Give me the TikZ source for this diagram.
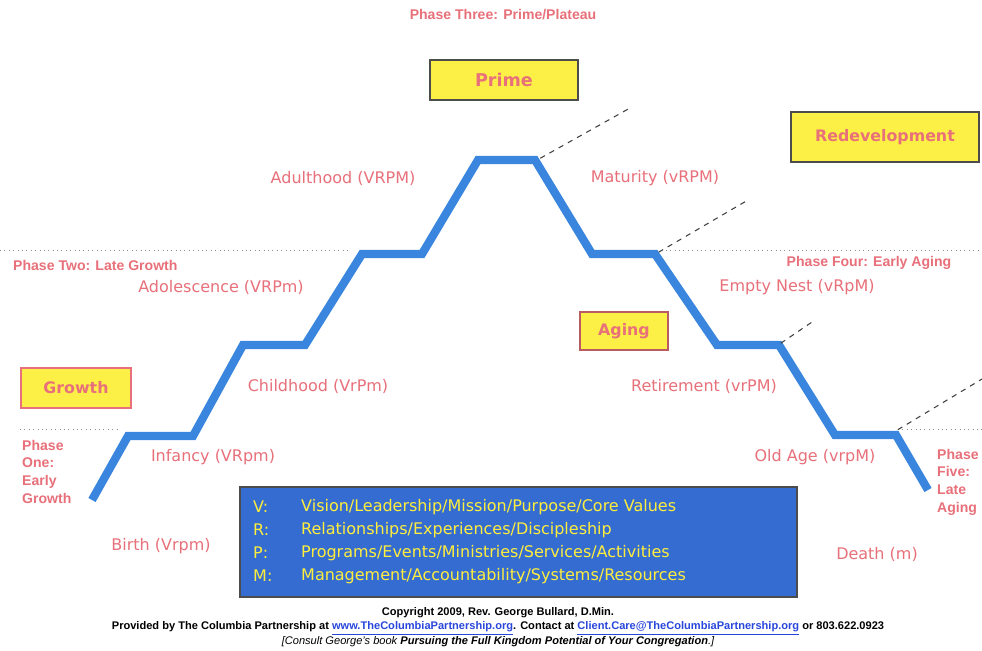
\documentclass[tikz,border=0pt]{standalone}
\usepackage{fontspec}
\setmainfont{Liberation Sans}
\newfontfamily\comicfont{DejaVu Sans}
\definecolor{stagepink}{RGB}{232,112,122}
\definecolor{stairblue}{RGB}{58,134,222}
\definecolor{keyblue}{RGB}{52,108,210}
\definecolor{eryellow}{RGB}{252,240,70}
\definecolor{keyyellow}{RGB}{255,238,60}
\definecolor{linkblue}{RGB}{40,70,220}
\tikzset{
  stage/.style={text=stagepink, font=\comicfont\fontsize{9.1}{10}\selectfont},
  phase/.style={text=stagepink, font=\bfseries\fontsize{8}{10}\selectfont, align=left},
  erabox/.style={draw=#1, line width=0.8pt, fill=eryellow, text=stagepink,
    font=\comicfont\bfseries\fontsize{9}{12}\selectfont, inner sep=0pt},
  stair/.style={stairblue, line width=4.7pt, line join=miter},
  future/.style={black!75, dashed, line width=0.6pt},
  divide/.style={black!45, dotted, line width=0.5pt},
  keytxt/.style={text=keyyellow, font=\comicfont\fontsize{9.1}{10}\selectfont, anchor=west},
  footer/.style={font=\fontsize{6.3}{7.5}\selectfont}
}
\begin{document}
\begin{tikzpicture}[x=0.02cm, y=-0.02cm]
    \useasboundingbox[fill=white] (0,0) rectangle (982,650);
    % phase dividers
    \draw[divide] (0,250) -- (350,250);
    \draw[divide] (657,250) -- (982,250);
    \draw[divide] (20,429) -- (120,429);
    \draw[divide] (898,429) -- (982,429);
    % the life cycle
    \coordinate (s0) at (92,500);
    \coordinate (s1) at (128,436);
    \coordinate (s2) at (193,436);
    \coordinate (s3) at (243,345);
    \coordinate (s4) at (305,345);
    \coordinate (s5) at (362,254);
    \coordinate (s6) at (422,254);
    \coordinate (s7) at (478,160);
    \coordinate (s8) at (535,160);
    \coordinate (s9) at (592,254);
    \coordinate (s10) at (655,254);
    \coordinate (s11) at (717,345);
    \coordinate (s12) at (779,345);
    \coordinate (s13) at (835,435);
    \coordinate (s14) at (896,435);
    \coordinate (s15) at (928,490);
    \draw[stair] (s0) -- (s1) -- (s2) -- (s3) -- (s4) -- (s5) -- (s6) -- (s7)
        -- (s8) -- (s9) -- (s10) -- (s11) -- (s12) -- (s13) -- (s14) -- (s15);
    % redevelopment branches
    \coordinate (r1) at (630,108);
    \coordinate (r2) at (748,200);
    \coordinate (r3) at (815,320);
    \coordinate (r4) at (982,379);
    \draw[future] ([xshift=3pt,yshift=1pt]s8) -- (r1);
    \draw[future] ([xshift=2pt,yshift=1pt]s10) -- (r2);
    \draw[future] ([xshift=1pt,yshift=1pt]s12) -- (r3);
    \draw[future] ([xshift=1pt,yshift=3pt]s14) -- (r4);
    % eras
    \node[erabox=black!70, font=\comicfont\bfseries\fontsize{10}{12}\selectfont,
        minimum width=2.96cm, minimum height=0.8cm] (prime) at (504,80) {Prime};
    \node[erabox=black!70, minimum width=3.76cm, minimum height=1.0cm] (redev) at (885,137) {Redevelopment};
    \node[erabox=stagepink!80!black, minimum width=1.76cm, minimum height=0.76cm] (aging) at (624,331) {Aging};
    \node[erabox=stagepink, minimum width=2.2cm, minimum height=0.8cm] (growth) at (76,388) {Growth};
    % stages
    \node[stage] (adult) at (343,178) {Adulthood (VRPM)};
    \node[stage] (mature) at (655,178) {Maturity (vRPM)};
    \node[stage] (adolesc) at (221,287) {Adolescence (VRPm)};
    \node[stage] (nest) at (797,287) {Empty Nest (vRpM)};
    \node[stage] (child) at (318,386) {Childhood (VrPm)};
    \node[stage] (retire) at (704,386) {Retirement (vrPM)};
    \node[stage] (infant) at (213,457) {Infancy (VRpm)};
    \node[stage] (oldage) at (815,457) {Old Age (vrpM)};
    \node[stage] (birth) at (161,546) {Birth (Vrpm)};
    \node[stage] (death) at (877,554) {Death (m)};
    % phases
    \node[phase] (ph3) at (503,15) {Phase Three: Prime/Plateau};
    \node[phase, anchor=west] (ph2) at (7,265) {Phase Two: Late Growth};
    \node[phase] (ph4) at (869,263) {Phase Four: Early Aging};
    \node[phase, anchor=north west] (ph1) at (16,434) {Phase\\One:\\Early\\Growth};
    \node[phase, anchor=north west] (ph5) at (931,443) {Phase\\Five:\\Late\\Aging};
    % key
    \node[draw=black!70, line width=0.8pt, fill=keyblue, minimum width=11.14cm, minimum height=2.2cm,
        inner sep=0pt] (key) at (518.5,542) {};
    \foreach \k/\txt [count=\i] in {V/Vision\slash Leadership\slash Mission\slash Purpose\slash Core Values,
        R/Relationships\slash Experiences\slash Discipleship,
        P/Programs\slash Events\slash Ministries\slash Services\slash Activities,
        M/Management\slash Accountability\slash Systems\slash Resources}{
      \node[keytxt] (k\i) at (247,{507+23*(\i-1)}) {\k:};
      \node[keytxt] (d\i) at (295,{507+23*(\i-1)}) {\txt};
    }
    % credits
    \node[footer, font=\bfseries\fontsize{6.3}{7.5}\selectfont] (copy) at (498,613)
        {Copyright 2009, Rev. George Bullard, D.Min.};
    \node[footer, font=\bfseries\fontsize{6.3}{7.5}\selectfont] (prov) at (498,628) {Provided by The Columbia Partnership at
        \textcolor{linkblue}{\underline{www.TheColumbiaPartnership.org}}. Contact at
        \textcolor{linkblue}{\underline{Client.Care@TheColumbiaPartnership.org}} or 803.622.0923};
    \node[footer] (book) at (498,642) {\itshape [Consult George's book \textbf{Pursuing the Full Kingdom Potential of Your Congregation}.]};
\end{tikzpicture}
\end{document}
